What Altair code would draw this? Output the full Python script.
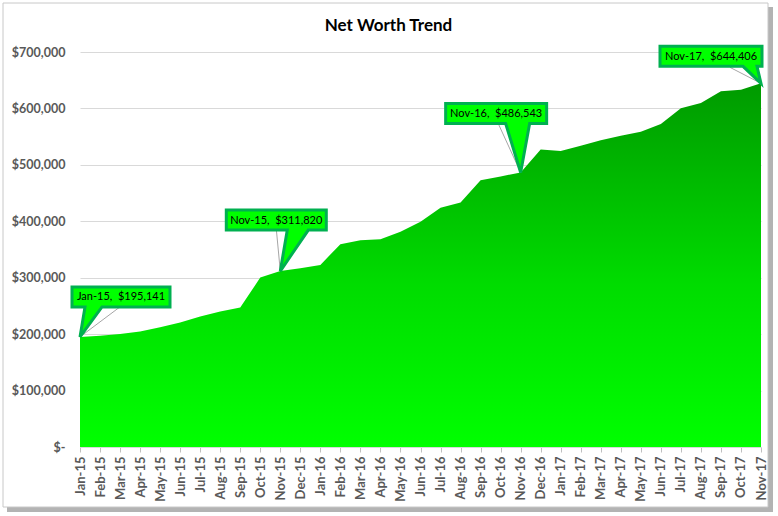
import altair as alt
import pandas as pd

# ---------------- data ----------------
months = [
    "Jan-15", "Feb-15", "Mar-15", "Apr-15", "May-15", "Jun-15", "Jul-15", "Aug-15",
    "Sep-15", "Oct-15", "Nov-15", "Dec-15", "Jan-16", "Feb-16", "Mar-16", "Apr-16",
    "May-16", "Jun-16", "Jul-16", "Aug-16", "Sep-16", "Oct-16", "Nov-16", "Dec-16",
    "Jan-17", "Feb-17", "Mar-17", "Apr-17", "May-17", "Jun-17", "Jul-17", "Aug-17",
    "Sep-17", "Oct-17", "Nov-17",
]
net_worth = [
    195141, 197000, 200400, 204500, 212300, 220500, 231100, 240000,
    247100, 300200, 311820, 316900, 322700, 359500, 366300, 368000,
    381500, 399200, 424000, 433500, 472800, 479300, 486543, 527300,
    524500, 533900, 543400, 551600, 558700, 572400, 600300, 609700,
    630400, 633300, 644406,
]
y_ticks = [0, 100000, 200000, 300000, 400000, 500000, 600000, 700000]

callout_months = ["Jan-15", "Nov-15", "Nov-16", "Nov-17"]
callout_values = [195141, 311820, 486543, 644406]
callout_labels = [
    "Jan-15,\u00a0 $195,141",
    "Nov-15,\u00a0 $311,820",
    "Nov-16,\u00a0 $486,543",
    "Nov-17,\u00a0 $644,406",
]

chart_title = "Net Worth Trend"

# ---------------- styling ----------------
W, H = 681, 395
FONT = "Lato"
AXIS_GRAY = "#595959"

# callout geometry in pixels relative to the data point:
# (box left, box right, box top, box bottom, tail-base left, tail-base right, leader end)
callout_geom = [
    (-8, 90, -50, -30, 5, 22, (40, -30)),
    (-54, 46, -61, -41, 7, 28, (-4, -42)),
    (-75, 26, -69, -49, -15, 9, (-22, -48)),
    (-101, 1, -37, -17, -18, -4, (-31, -16)),
]

df = pd.DataFrame({"month": months, "value": net_worth})
one = pd.DataFrame({"k": [0]})

x_scale = alt.Scale(type="point", domain=months, padding=0)
y_scale = alt.Scale(domain=[0, 700000], nice=False, zero=True)

x_axis = alt.Axis(
    labelAngle=-90,
    labelFont=FONT,
    labelFontSize=13,
    labelFontWeight="bold",
    labelColor=AXIS_GRAY,
    labelPadding=4,
    labelOverlap=False,
    tickColor="#BFBFBF",
    tickSize=5,
    domainColor="#D9D9D9",
    grid=False,
    title=None,
)
y_axis = alt.Axis(
    values=y_ticks,
    labelExpr="datum.value == 0 ? '$-' : '$' + format(datum.value, ',')",
    labelFont=FONT,
    labelFontSize=12.5,
    labelFontWeight="bold",
    labelColor=AXIS_GRAY,
    labelPadding=15,
    ticks=False,
    domain=False,
    grid=True,
    gridColor="#D9D9D9",
    gridWidth=1,
    title=None,
)

# decorative chart frame + shadow (pixel positions relative to plot origin)
shadow_right = alt.Chart(one).mark_rect(color="#B3B3B3").encode(
    x=alt.value(688), x2=alt.value(693), y=alt.value(-45), y2=alt.value(460)
)
shadow_bottom = alt.Chart(one).mark_rect(color="#B3B3B3").encode(
    x=alt.value(-73), x2=alt.value(693), y=alt.value(455), y2=alt.value(460)
)
frame = alt.Chart(one).mark_rect(
    fill="white", fillOpacity=0, stroke="#C8C8C8", strokeWidth=1
).encode(x=alt.value(-77), x2=alt.value(688), y=alt.value(-49), y2=alt.value(455))

gradient = alt.Gradient(
    gradient="linear",
    stops=[
        alt.GradientStop(color="#00FF00", offset=0),
        alt.GradientStop(color="#00DC00", offset=0.45),
        alt.GradientStop(color="#009A00", offset=1),
    ],
    x1=0, x2=0, y1=1, y2=0,
)

area = alt.Chart(df).mark_area(color=gradient, interpolate="linear").encode(
    x=alt.X("month:N", scale=x_scale, axis=x_axis, title=None),
    y=alt.Y("value:Q", scale=y_scale, axis=y_axis, title=None),
)

layers = [shadow_right, shadow_bottom, frame, area]

cdf_all = pd.DataFrame({"month": callout_months, "value": callout_values, "label": callout_labels})

for i, (l, r, t, b, tl, tr, lead) in enumerate(callout_geom):
    cdf = cdf_all.iloc[[i]]
    leader_path = f"M 0 0 L {lead[0]} {lead[1]}"
    box_path = (
        f"M {l} {t} L {r} {t} L {r} {b} L {tr} {b} L 0 0 L {tl} {b} L {l} {b} Z"
    )
    enc = dict(
        x=alt.X("month:N", scale=x_scale, title=None),
        y=alt.Y("value:Q", scale=y_scale, title=None),
    )
    leader = alt.Chart(cdf).mark_point(
        shape=leader_path, size=4, filled=False, fill="transparent",
        stroke="#A6A6A6", strokeWidth=1, opacity=1,
    ).encode(**enc)
    box = alt.Chart(cdf).mark_point(
        shape=box_path, size=4, filled=True, fill="#00FF00", stroke="#00B050",
        strokeWidth=3, strokeJoin="miter", opacity=1, fillOpacity=1, strokeOpacity=1,
    ).encode(**enc)
    txt = alt.Chart(cdf).mark_text(
        dx=(l + r) / 2, dy=(t + b) / 2 + 0.5, align="center", baseline="middle",
        font=FONT, fontSize=11, color="black",
    ).encode(text="label:N", **enc)
    layers += [leader, box, txt]

title = alt.Chart(pd.DataFrame({"t": [chart_title]})).mark_text(
    font=FONT, fontSize=17, fontWeight="bold", color="black",
    align="center", baseline="alphabetic",
).encode(x=alt.value(308.5), y=alt.value(-21), text="t:N")
layers.append(title)

chart = alt.layer(*layers).properties(
    width=W,
    height=H,
    autosize="none",
    padding={"left": 80, "top": 52, "right": 17, "bottom": 69},
    background="white",
).configure_view(stroke=None)

chart.save("out.html", embed_options={"renderer": "svg", "actions": False})
